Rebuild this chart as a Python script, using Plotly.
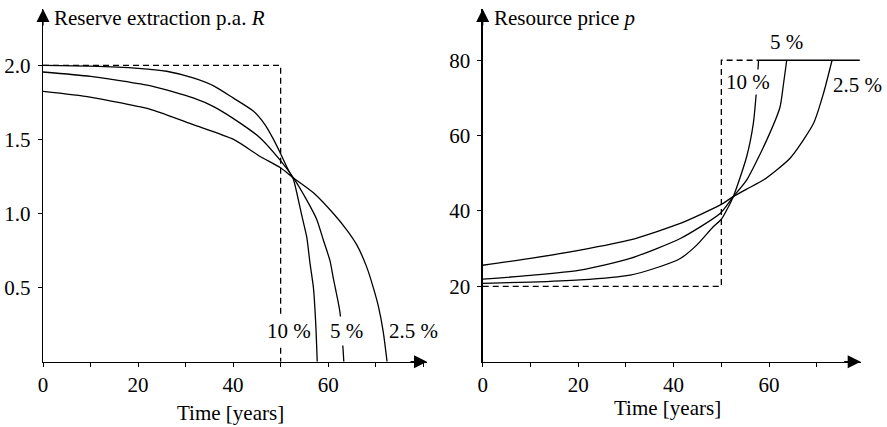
import plotly.graph_objects as go

# ---------------- data ----------------
# Left panel: reserve extraction R over time, for three interest rates
t_r10 = [0, 10, 20, 26, 31.6, 36, 40, 44.3, 46.7, 48.5, 49.9, 51.6, 52.7, 53.4, 54.5, 55.5, 56.2, 56.9, 57.4, 57.7]
r_r10 = [2.0, 1.995, 1.98, 1.96, 1.915, 1.86, 1.78, 1.69, 1.60, 1.50, 1.41, 1.295, 1.23, 1.14, 0.98, 0.84, 0.66, 0.5, 0.25, 0.0]

t_r5 = [0, 10, 22.9, 31.6, 36, 41.5, 45.7, 49.9, 52.7, 55.5, 57.6, 59, 60.4, 61.1, 62.0, 62.5, 63.0, 63.3]
r_r5 = [1.955, 1.925, 1.86, 1.78, 1.72, 1.61, 1.51, 1.36, 1.24, 1.09, 0.96, 0.82, 0.68, 0.56, 0.42, 0.33, 0.15, 0.0]

t_r25 = [0, 9.9, 22.9, 31.6, 40.1, 45.7, 49.9, 52.7, 56.9, 61.1, 63.9, 66, 68.1, 69.5, 70.6, 71.6, 72.4]
r_r25 = [1.824, 1.786, 1.70, 1.60, 1.50, 1.385, 1.31, 1.24, 1.14, 1.0, 0.89, 0.79, 0.64, 0.5, 0.37, 0.2, 0.0]

t_r_ref = [0, 50, 50]
r_r_ref = [2.0, 2.0, 0.0]

# Right panel: resource price p over time
t_p10 = [0, 10, 20.4, 30.9, 36.1, 41.4, 44.9, 48.3, 50, 52.5, 55.3, 56.7, 57.4, 57.8]
p_p10 = [20.8, 21.1, 21.7, 23.0, 24.8, 27.4, 31.0, 35.8, 37.8, 43.8, 54.4, 63.2, 72.5, 80.0]

t_p5 = [0, 10, 20.4, 30.9, 41.4, 49.8, 52.5, 55.3, 59.5, 62.3, 63.0, 63.7]
p_p5 = [21.9, 22.9, 24.3, 27.4, 32.7, 39.4, 43.8, 48.2, 58.8, 67.6, 73.5, 80.0]

t_p25 = [0, 10, 20.4, 30.9, 41.4, 49.8, 52.5, 55.3, 58.8, 64.4, 69.3, 71.4, 73.2]
p_p25 = [25.6, 27.4, 29.6, 32.3, 36.7, 41.6, 43.8, 45.8, 48.2, 54.0, 63.2, 71.2, 80.0]

t_p_ref = [0, 50, 50, 57.8]
p_p_ref = [20, 20, 80, 80]

t_backstop = [57.8, 79.0]
p_backstop = [80, 80]

left_xticks = [0, 20, 40, 60]
left_yticks = [0.5, 1.0, 1.5, 2.0]
right_xticks = [0, 20, 40, 60]
right_yticks = [20, 40, 60, 80]

rate_labels = ["10 %", "5 %", "2.5 %"]

# ---------------- layout geometry ----------------
W, H = 887, 427
FONT = "Liberation Serif"
FS = 21
LW = 1.3


def px(x):
    return x / W


def py(y):
    return 1 - y / H


y_dom = [py(361.7), py(9)]
xl_dom = [px(43), px(427)]
xr_dom = [px(482.7), px(860.7)]

fig = go.Figure()

solid = dict(color="black", width=LW, shape="spline", smoothing=0.6)
straight = dict(color="black", width=LW)
dashed = dict(color="black", width=LW, dash="6px,4px")

for t, v in [(t_r10, r_r10), (t_r5, r_r5), (t_r25, r_r25)]:
    fig.add_trace(go.Scatter(x=t, y=v, mode="lines", line=solid, xaxis="x", yaxis="y", showlegend=False))
fig.add_trace(go.Scatter(x=t_r_ref, y=r_r_ref, mode="lines", line=dashed, xaxis="x", yaxis="y", showlegend=False))

for t, v in [(t_p10, p_p10), (t_p5, p_p5), (t_p25, p_p25)]:
    fig.add_trace(go.Scatter(x=t, y=v, mode="lines", line=solid, xaxis="x2", yaxis="y2", showlegend=False))
fig.add_trace(go.Scatter(x=t_backstop, y=p_backstop, mode="lines", line=straight, xaxis="x2", yaxis="y2", showlegend=False))
fig.add_trace(go.Scatter(x=t_p_ref, y=p_p_ref, mode="lines", line=dashed, xaxis="x2", yaxis="y2", showlegend=False))

axis_common = dict(
    showline=True, linecolor="black", linewidth=LW, showgrid=False, zeroline=False,
    ticks="outside", ticklen=4, tickwidth=1, tickcolor="black",
    tickfont=dict(family=FONT, size=FS, color="black"), fixedrange=True,
)

fig.update_layout(
    width=W, height=H,
    margin=dict(l=0, r=0, t=0, b=0, autoexpand=False),
    paper_bgcolor="white", plot_bgcolor="white",
    font=dict(family=FONT, size=FS, color="black"),
    hovermode=False,
    xaxis=dict(domain=xl_dom, range=[0, 80.8], tickvals=left_xticks, anchor="y",
               minor=dict(dtick=10, tick0=0, ticks="outside", ticklen=4, tickcolor="black", showgrid=False),
               **axis_common),
    yaxis=dict(domain=y_dom, range=[0, 2.38], tickvals=left_yticks, tickformat=".1f", anchor="x",
               ticklabelstandoff=3, **axis_common),
    xaxis2=dict(domain=xr_dom, range=[0, 79.2], tickvals=right_xticks, anchor="y2",
                minor=dict(dtick=10, tick0=0, ticks="outside", ticklen=4, tickcolor="black", showgrid=False),
                **axis_common),
    yaxis2=dict(domain=y_dom, range=[0, 93.6], tickvals=right_yticks, anchor="x2",
                ticklabelstandoff=3, **axis_common),
)

ann = []
# axis arrowheads
for xd in (xl_dom, xr_dom):
    ann.append(dict(xref="paper", yref="paper", x=xd[1], y=y_dom[0], ax=-18, ay=0, text="",
                    showarrow=True, arrowhead=2, arrowsize=2, arrowwidth=LW, arrowcolor="black", standoff=0))
    ann.append(dict(xref="paper", yref="paper", x=xd[0], y=y_dom[1], ax=0, ay=18, text="",
                    showarrow=True, arrowhead=2, arrowsize=2, arrowwidth=LW, arrowcolor="black", standoff=0))

tfont = dict(family=FONT, size=FS, color="black")
# panel titles
ann.append(dict(xref="paper", yref="paper", x=px(52), y=py(18), xanchor="left", yanchor="middle",
                text="Reserve extraction p.a. <i>R</i>", showarrow=False, font=tfont))
ann.append(dict(xref="paper", yref="paper", x=px(492), y=py(18), xanchor="left", yanchor="middle",
                text="Resource price <i>p</i>", showarrow=False, font=tfont))
# x-axis titles
ann.append(dict(xref="paper", yref="paper", x=px(230.8), y=py(413), xanchor="center", yanchor="middle",
                text="Time [years]", showarrow=False, font=tfont))
ann.append(dict(xref="paper", yref="paper", x=px(667.5), y=py(408), xanchor="center", yanchor="middle",
                text="Time [years]", showarrow=False, font=tfont))

# rate labels, left panel
for (x, y), lab in zip([(51.8, 0.21), (63.8, 0.21), (78.0, 0.21)], rate_labels):
    ann.append(dict(xref="x", yref="y", x=x, y=y, text=lab, showarrow=False, font=tfont,
                    bgcolor="white", borderpad=2, xanchor="center", yanchor="middle"))
# rate labels, right panel
for (x, y), lab in zip([(55.6, 74.3), (63.6, 84.9), (78.5, 73.4)], rate_labels):
    ann.append(dict(xref="x2", yref="y2", x=x, y=y, text=lab, showarrow=False, font=tfont,
                    bgcolor="white", borderpad=0, xanchor="center", yanchor="middle"))

fig.update_layout(annotations=ann)

# remove the browser's default 8px body margin so the figure fills the window
fig.write_html(
    "out.html",
    config={"displayModeBar": False, "staticPlot": True},
    post_script="document.body.style.margin='0';document.body.style.overflow='hidden';",
)
